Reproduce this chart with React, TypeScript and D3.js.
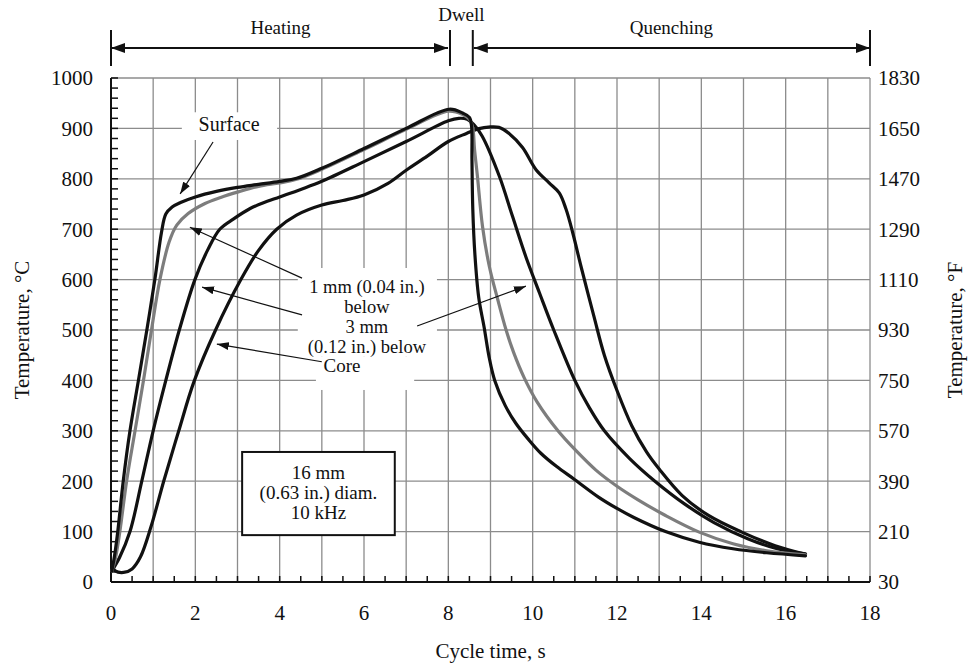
import React from 'react';
import * as d3 from 'd3';

type Pt = [number, number];

// time (s), temperature (°C)
const surfaceCurve: Pt[] = [
  [0.02, 22], [0.08, 50], [0.16, 100], [0.29, 200], [0.45, 300], [0.65, 400], [0.85, 500], [1.04, 600],
  [1.2, 695], [1.3, 730], [1.45, 744], [1.65, 753], [2.0, 764], [2.5, 775], [3.0, 783], [3.5, 789],
  [4.0, 795], [4.4, 801], [5.0, 821], [6.0, 860], [7.0, 900], [8.02, 938], [8.35, 930], [8.5, 922],
  [8.55, 905], [8.56, 840], [8.58, 740], [8.63, 650], [8.72, 565], [8.85, 505], [8.97, 445], [9.1, 400],
  [9.35, 350], [9.6, 315], [9.9, 283], [10.2, 255], [10.57, 229], [11.0, 203], [11.57, 168], [12.0, 146],
  [12.4, 128], [13.15, 100], [13.95, 79], [14.75, 66], [15.55, 58], [16.47, 52],
];

const oneMmCurve: Pt[] = [
  [0.02, 22], [0.1, 45], [0.21, 100], [0.37, 200], [0.57, 300], [0.77, 400], [0.96, 500], [1.16, 600],
  [1.38, 675], [1.56, 708], [1.83, 731], [2.23, 751], [2.6, 763], [3.02, 774], [3.5, 785], [4.0, 792],
  [4.4, 799], [5.0, 819], [6.0, 858], [7.0, 898], [8.0, 934], [8.35, 927], [8.5, 918], [8.58, 900],
  [8.62, 860], [8.69, 805], [8.81, 706], [8.97, 627], [9.17, 561], [9.37, 500], [9.55, 455], [9.8, 405],
  [10.1, 358], [10.6, 300], [11.0, 263], [11.5, 222], [12.0, 190], [12.5, 163], [13.15, 132],
  [13.95, 99], [14.75, 76], [15.55, 62], [16.47, 54],
];

const threeMmCurve: Pt[] = [
  [0.02, 22], [0.2, 48], [0.45, 100], [0.73, 200], [1.0, 300], [1.3, 400], [1.62, 500], [1.99, 600],
  [2.3, 660], [2.58, 700], [2.9, 720], [3.3, 741], [3.6, 752], [4.0, 764], [4.5, 779], [5.0, 795],
  [6.0, 834], [7.0, 874], [8.0, 915], [8.25, 920], [8.45, 918], [8.6, 908], [8.8, 885], [9.21, 805],
  [9.52, 726], [9.84, 645], [10.16, 574], [10.5, 500], [11.0, 400], [11.35, 345], [11.7, 300], [12.3, 245],
  [12.9, 200], [13.6, 155], [14.3, 118], [15.1, 86], [15.8, 66], [16.47, 56],
];

const coreCurve: Pt[] = [
  [0.02, 32], [0.1, 22], [0.3, 19], [0.5, 26], [0.7, 50], [0.95, 110], [1.25, 200], [1.6, 298],
  [1.97, 398], [2.48, 500], [3.08, 600], [3.5, 658], [3.93, 700], [4.4, 728], [5.0, 748], [5.5, 757],
  [6.0, 768], [6.57, 791], [7.0, 817], [7.5, 845], [8.0, 874], [8.43, 890], [8.7, 899], [9.0, 903],
  [9.2, 902], [9.44, 890], [9.76, 862], [10.08, 818], [10.39, 792], [10.63, 772], [10.79, 740], [10.95, 693],
  [11.15, 625], [11.45, 528], [11.7, 450], [12.0, 380], [12.35, 310], [12.7, 258], [13.0, 224], [13.54, 172],
  [14.17, 132], [14.96, 99], [15.75, 72], [16.47, 55],
];

const xTickValues = [0, 2, 4, 6, 8, 10, 12, 14, 16, 18];
const yTickValuesC = [0, 100, 200, 300, 400, 500, 600, 700, 800, 900, 1000];
const yTickLabelsF = ['30', '210', '390', '570', '750', '930', '1110', '1290', '1470', '1650', '1830'];
const phaseLabels = ['Heating', 'Dwell', 'Quenching'];
const phaseBounds = [0, 8.04, 8.58, 18];

const blockLines = ['1 mm (0.04 in.)', 'below', '3 mm', '(0.12 in.) below'];
const boxLines = ['16 mm', '(0.63 in.) diam.', '10 kHz'];

export default function App() {
  const W = 974, H = 665;
  const L = 111, R = 870, T = 78, B = 582;
  const x = d3.scaleLinear().domain([0, 18]).range([L, R]);
  const y = d3.scaleLinear().domain([0, 1000]).range([B, T]);
  const yF = d3.scaleLinear().domain([30, 1830]).range([B, T]);
  const line = d3.line<Pt>().x(d => x(d[0])).y(d => y(d[1])).curve(d3.curveCatmullRom.alpha(0.5));
  const serif = '"Liberation Serif", "Times New Roman", serif';
  const gridColor = '#8c8c8c';

  const series = [
    { data: coreCurve, color: '#111' },
    { data: threeMmCurve, color: '#111' },
    { data: oneMmCurve, color: '#7d7d7d' },
    { data: surfaceCurve, color: '#111' },
  ];

  const arrows: { from: Pt; to: Pt }[] = [
    { from: [2.42, 873], to: [1.64, 770] },
    { from: [4.53, 603], to: [1.87, 704] },
    { from: [4.53, 530], to: [2.16, 585] },
    { from: [5.0, 437], to: [2.51, 472] },
    { from: [7.26, 508], to: [9.84, 587] },
  ];

  const barTop = 30, barBot = 66, arrowY = 48;

  return (
    <svg width={W} height={H} style={{ position: 'absolute', left: 0, top: 0, background: '#fff' }}
      fontFamily={serif}>
      <defs>
        <marker id="ah" viewBox="0 0 12 8" refX="12" refY="4" markerWidth="12" markerHeight="8"
          markerUnits="userSpaceOnUse" orient="auto">
          <path d="M0,0 L12,4 L0,8 z" fill="#111" />
        </marker>
        <marker id="big" viewBox="0 0 14 10" refX="14" refY="5" markerWidth="14" markerHeight="10"
          markerUnits="userSpaceOnUse" orient="auto-start-reverse">
          <path d="M0,0 L14,5 L0,10 z" fill="#111" />
        </marker>
      </defs>
      <rect x={0} y={0} width={W} height={H} fill="#fff" />

      {/* grid */}
      {d3.range(1, 19).map(t => (
        <line key={'gx' + t} x1={x(t)} x2={x(t)} y1={T} y2={B} stroke={gridColor} strokeWidth={1.3} />
      ))}
      {d3.range(100, 1001, 100).map(v => (
        <line key={'gy' + v} x1={L} x2={R} y1={y(v)} y2={y(v)} stroke={gridColor} strokeWidth={1.3} />
      ))}

      {/* white backgrounds for annotations */}
      <rect x={x(1.68)} y={y(932)} width={x(3.94) - x(1.68)} height={y(877) - y(932)} fill="#fff" />
      <rect x={x(4.43)} y={y(623)} width={x(7.73) - x(4.43)} height={y(448) - y(623)} fill="#fff" />
      <rect x={x(4.86)} y={y(448)} width={x(7.19) - x(4.86)} height={y(381) - y(448)} fill="#fff" />

      {/* axes */}
      <line x1={L} x2={L} y1={T} y2={B} stroke="#111" strokeWidth={2} />
      <line x1={L} x2={R} y1={B} y2={B} stroke="#111" strokeWidth={2} />
      {d3.range(0, 1001, 20).map(v => (
        <line key={'ty' + v} x1={L} x2={L + 7} y1={y(v)} y2={y(v)} stroke="#111" strokeWidth={1.5} />
      ))}
      {d3.range(0, 18.01, 0.5).map(t => (
        <line key={'tx' + t} x1={x(t)} x2={x(t)} y1={B} y2={B - 6} stroke="#111" strokeWidth={1.5} />
      ))}

      {/* tick labels */}
      {yTickValuesC.map(v => (
        <text key={'ly' + v} x={L - 18} y={y(v)} dy="0.35em" textAnchor="end" fontSize={21} fill="#111">{v}</text>
      ))}
      {yTickLabelsF.map(s => (
        <text key={'lf' + s} x={R + 8} y={yF(+s)} dy="0.35em" textAnchor="start" fontSize={21} fill="#111">{s}</text>
      ))}
      {xTickValues.map(t => (
        <text key={'lx' + t} x={x(t)} y={620} textAnchor="middle" fontSize={21} fill="#111">{t}</text>
      ))}

      {/* axis titles */}
      <text x={(L + R) / 2} y={658} textAnchor="middle" fontSize={21} fill="#111">Cycle time, s</text>
      <text transform={`translate(29,${(T + B) / 2}) rotate(-90)`} textAnchor="middle" fontSize={21} fill="#111">Temperature, °C</text>
      <text transform={`translate(962,${(T + B) / 2}) rotate(-90)`} textAnchor="middle" fontSize={21} fill="#111">Temperature, °F</text>

      {/* phase annotations */}
      {phaseBounds.map((t, i) => (
        <line key={'pb' + i} x1={x(t)} x2={x(t)} y1={barTop} y2={barBot} stroke="#111" strokeWidth={2} />
      ))}
      <line x1={x(phaseBounds[0])} x2={x(phaseBounds[1]) - 2} y1={arrowY} y2={arrowY} stroke="#111" strokeWidth={2}
        markerStart="url(#big)" markerEnd="url(#big)" />
      <line x1={x(phaseBounds[2]) + 1} x2={x(phaseBounds[3])} y1={arrowY} y2={arrowY} stroke="#111" strokeWidth={2}
        markerStart="url(#big)" markerEnd="url(#big)" />
      <text x={(x(phaseBounds[0]) + x(phaseBounds[1])) / 2} y={34} textAnchor="middle" fontSize={19} fill="#111">{phaseLabels[0]}</text>
      <text x={(x(phaseBounds[1]) + x(phaseBounds[2])) / 2} y={21} textAnchor="middle" fontSize={19} fill="#111">{phaseLabels[1]}</text>
      <text x={(x(phaseBounds[2]) + x(phaseBounds[3])) / 2} y={34} textAnchor="middle" fontSize={19} fill="#111">{phaseLabels[2]}</text>

      {/* curves */}
      {series.map((s, i) => (
        <path key={'s' + i} d={line(s.data) || ''} fill="none" stroke={s.color} strokeWidth={3.2}
          strokeLinejoin="round" strokeLinecap="round" />
      ))}

      {/* arrows */}
      {arrows.map((a, i) => (
        <line key={'a' + i} x1={x(a.from[0])} y1={y(a.from[1])} x2={x(a.to[0])} y2={y(a.to[1])}
          stroke="#111" strokeWidth={1.2} markerEnd="url(#ah)" />
      ))}

      {/* annotation texts */}
      <text x={x(2.8)} y={y(895)} textAnchor="middle" fontSize={20} fill="#111">Surface</text>
      {blockLines.map((s, i) => (
        <text key={'bl' + i} x={x(6.07)} y={y(573) + i * 19.8} textAnchor="middle" fontSize={18.5} fill="#111">{s}</text>
      ))}
      <text x={x(5.48)} y={y(417)} textAnchor="middle" fontSize={19} fill="#111">Core</text>

      {/* info box */}
      <rect x={x(3.11)} y={y(258)} width={x(6.73) - x(3.11)} height={y(93) - y(258)} fill="#fff" stroke="#111" strokeWidth={2} />
      {boxLines.map((s, i) => (
        <text key={'bx' + i} x={x(4.92)} y={y(204) + i * 20} textAnchor="middle" fontSize={19} fill="#111">{s}</text>
      ))}
    </svg>
  );
}
